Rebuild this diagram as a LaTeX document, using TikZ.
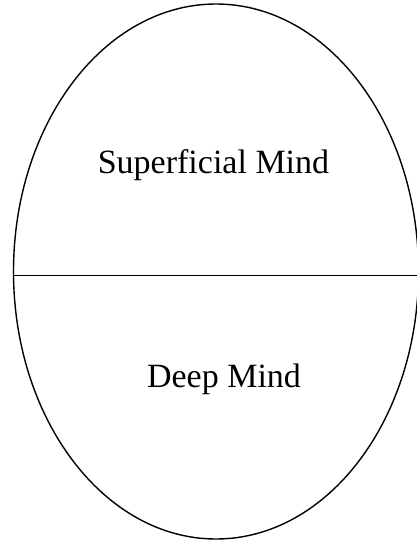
\documentclass[tikz,border=0pt]{standalone}
\usepackage{fontspec}
\setmainfont{Liberation Serif}
\begin{document}
\begin{tikzpicture}[x=1pt,y=-1pt,
  outline/.style={draw=black,line width=1.4pt},
  label/.style={font=\fontsize{34}{37}\selectfont,anchor=base,inner sep=0pt}]
\clip (0,0) rectangle (417,540);
\fill[white] (0,0) rectangle (417,540);
\draw[outline] (216,271.5) ellipse [x radius=202.5, y radius=267.5];
\coordinate (l) at (13.6,275.5);
\coordinate (r) at (420,275.5);
\draw[outline] (l) -- (r);
\node[label] (sup) at (213.5,173) {Superficial Mind};
\node[label] (deep) at (224,387) {Deep Mind};
\end{tikzpicture}
\end{document}
